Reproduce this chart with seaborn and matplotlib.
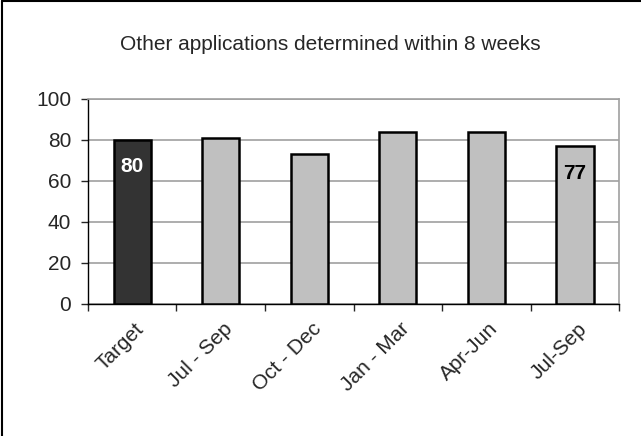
import pandas as pd
import matplotlib
matplotlib.use("Agg")
import matplotlib.pyplot as plt
import matplotlib.transforms as mtransforms
import seaborn as sns

periods = ["Target", "Jul - Sep", "Oct - Dec", "Jan - Mar", "Apr-Jun", "Jul-Sep"]
percent = [80, 81, 73, 84, 84, 77]
bar_colors = ["#333333", "#c0c0c0", "#c0c0c0", "#c0c0c0", "#c0c0c0", "#c0c0c0"]
shown_labels = {0: ("80", "white"), 5: ("77", "black")}

sns.set_style("white")
plt.rcParams["font.family"] = ["Liberation Sans", "DejaVu Sans"]

df = pd.DataFrame({"period": periods, "percent": percent})

fig = plt.figure(figsize=(6.41, 4.36), dpi=100)
ax = fig.add_axes([0.137, 0.303, 0.829, 0.470])

sns.barplot(x="period", y="percent", data=df, hue="period", palette=bar_colors,
            legend=False, width=0.42, edgecolor="black", linewidth=1.8, ax=ax, zorder=3)

ax.set_ylim(0, 100)
ax.set_xlim(-0.5, 5.5)
ax.set_yticks(range(0, 101, 20))
ax.yaxis.grid(True, color="#a0a0a0", linewidth=1.2, zorder=0)
ax.set_xlabel("")
ax.set_ylabel("")

for side in ["top", "right"]:
    ax.spines[side].set_color("#a0a0a0")
    ax.spines[side].set_linewidth(1.2)
for side in ["left", "bottom"]:
    ax.spines[side].set_color("black")
    ax.spines[side].set_linewidth(1.0)

ax.tick_params(axis="y", left=True, length=5, width=1, labelsize=15, pad=7)
ax.tick_params(axis="x", which="major", length=0, labelsize=15, pad=11)
ax.set_xticks([i - 0.5 for i in range(7)], minor=True)
ax.tick_params(axis="x", which="minor", bottom=True, length=5, width=1)
shift = mtransforms.ScaledTranslation(2 / 100, 0, fig.dpi_scale_trans)
for lab in ax.get_xticklabels():
    lab.set_rotation(45)
    lab.set_ha("right")
    lab.set_rotation_mode("anchor")
    lab.set_transform(lab.get_transform() + shift)

for i, (txt, col) in shown_labels.items():
    ax.text(i, percent[i] - 8.5, txt, ha="center", va="top", color=col,
            fontsize=15, fontweight="bold", zorder=4)

fig.text(0.515, 0.897, "Other applications determined within 8 weeks",
         ha="center", va="center", fontsize=15)

# chart area border (only top and left visible in the original crop)
fig.add_artist(plt.Line2D([0.003, 0.003], [0, 0.997], color="black", linewidth=1.5))
fig.add_artist(plt.Line2D([0.003, 1], [0.997, 0.997], color="black", linewidth=1.5))

plt.savefig("out.png", dpi=100)
